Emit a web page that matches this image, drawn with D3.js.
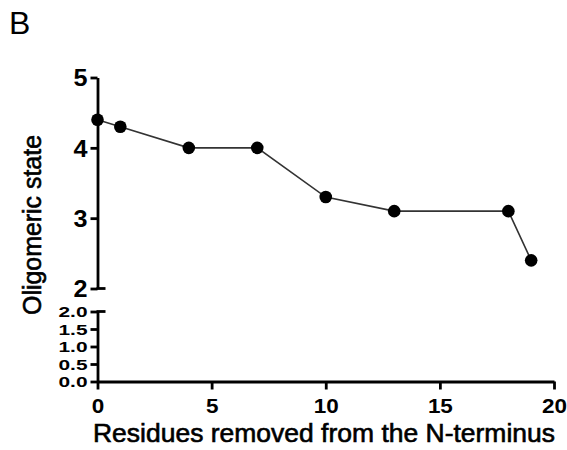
<!DOCTYPE html>
<html>
<head>
<meta charset="utf-8">
<script src="https://cdn.jsdelivr.net/npm/d3@7"></script>
<style>
  html, body { margin: 0; padding: 0; background: #fff; }
  svg { display: block; }
  text { font-family: "Liberation Sans", Arial, sans-serif; fill: #000; }
</style>
</head>
<body>
<svg id="chart" width="567" height="450"></svg>
<script>
// ---- data ----
const residuesRemoved = [0, 1, 4, 7, 10, 13, 18, 19];
const oligomericState = [4.4, 4.3, 4.0, 4.0, 3.3, 3.1, 3.1, 2.4];
const xTicks = [0, 5, 10, 15, 20];
const yTicksUpper = [2, 3, 4, 5];
const yTicksLower = [0, 0.5, 1.0, 1.5, 2.0];
const yTickLabelsLower = ["0.0", "0.5", "1.0", "1.5", "2.0"];
const panelLabel = "B";
const xTitle = "Residues removed from the N-terminus";
const yTitle = "Oligomeric state";

// ---- layout ----
const svg = d3.select("#chart");
const x = d3.scaleLinear().domain([0, 20]).range([97.5, 554]);
const yUp = d3.scaleLinear().domain([2, 5]).range([288.5, 77.5]);
const yLo = d3.scaleLinear().domain([0, 2]).range([381.5, 311.5]);
const axisW = 2.8;
const FF = "Liberation Sans, Arial, sans-serif";

// panel label
svg.append("text").attr("x", 9).attr("y", 34).attr("font-size", 32).text(panelLabel);

// upper y axis
const gUp = svg.append("g").attr("transform", `translate(${x(0)},0)`)
  .call(d3.axisLeft(yUp).tickValues(yTicksUpper).tickSize(7).tickSizeOuter(0).tickPadding(3).tickFormat(d3.format("d")));
gUp.select(".domain").attr("stroke", "#000").attr("stroke-width", axisW);
gUp.selectAll(".tick line").attr("stroke", "#000").attr("stroke-width", axisW);
gUp.selectAll(".tick text").style("font-size", "23px").style("font-weight", "bold")
  .style("font-family", FF).attr("fill", "#000").attr("dy", "0.36em")
  .attr("textLength", 14).attr("lengthAdjust", "spacingAndGlyphs");
// break end cap at bottom of upper segment
svg.append("line").attr("x1", x(0) - 1).attr("x2", x(0) + 8)
  .attr("y1", yUp(2)).attr("y2", yUp(2)).attr("stroke", "#000").attr("stroke-width", axisW);

// lower y axis
const gLo = svg.append("g").attr("transform", `translate(${x(0)},0)`)
  .call(d3.axisLeft(yLo).tickValues(yTicksLower).tickSize(7).tickSizeOuter(0).tickPadding(3)
    .tickFormat((d, i) => yTickLabelsLower[i]));
gLo.select(".domain").attr("stroke", "#000").attr("stroke-width", axisW);
gLo.selectAll(".tick line").attr("stroke", "#000").attr("stroke-width", axisW);
gLo.selectAll(".tick text").style("font-size", "15px").style("font-weight", "bold")
  .style("font-family", FF).attr("fill", "#000").attr("dy", "0.36em")
  .attr("textLength", 29).attr("lengthAdjust", "spacingAndGlyphs");
svg.append("line").attr("x1", x(0) - 1).attr("x2", x(0) + 8)
  .attr("y1", yLo(2)).attr("y2", yLo(2)).attr("stroke", "#000").attr("stroke-width", axisW);

// x axis
const gX = svg.append("g").attr("transform", `translate(0,${yLo(0)})`)
  .call(d3.axisBottom(x).tickValues(xTicks).tickSize(8).tickSizeOuter(0).tickPadding(9).tickFormat(d3.format("d")));
gX.select(".domain").attr("stroke", "#000").attr("stroke-width", axisW);
gX.selectAll(".tick line").attr("stroke", "#000").attr("stroke-width", axisW);
gX.selectAll(".tick text").style("font-size", "20px").style("font-weight", "bold")
  .style("font-family", FF).attr("fill", "#000")
  .each(function (d) {
    const s = String(d);
    d3.select(this).attr("textLength", 12.5 * s.length).attr("lengthAdjust", "spacingAndGlyphs");
  });

// axis titles
svg.append("text").attr("x", 93).attr("y", 442).style("font-size", "25px")
  .attr("stroke", "#000").attr("stroke-width", 0.6)
  .attr("textLength", 462).attr("lengthAdjust", "spacingAndGlyphs").text(xTitle);
svg.append("text").attr("transform", "translate(41,225) rotate(-90)")
  .attr("text-anchor", "middle").style("font-size", "25px")
  .attr("stroke", "#000").attr("stroke-width", 0.6)
  .attr("textLength", 180).attr("lengthAdjust", "spacingAndGlyphs").text(yTitle);

// data
const pts = residuesRemoved.map((d, i) => [d, oligomericState[i]]);
svg.append("path").datum(pts)
  .attr("fill", "none").attr("stroke", "#333").attr("stroke-width", 1.6)
  .attr("d", d3.line().x(d => x(d[0])).y(d => yUp(d[1])));
svg.selectAll("circle.pt").data(pts).enter().append("circle")
  .attr("class", "pt").attr("cx", d => x(d[0])).attr("cy", d => yUp(d[1]))
  .attr("r", 6.3).attr("fill", "#000");
</script>
</body>
</html>
